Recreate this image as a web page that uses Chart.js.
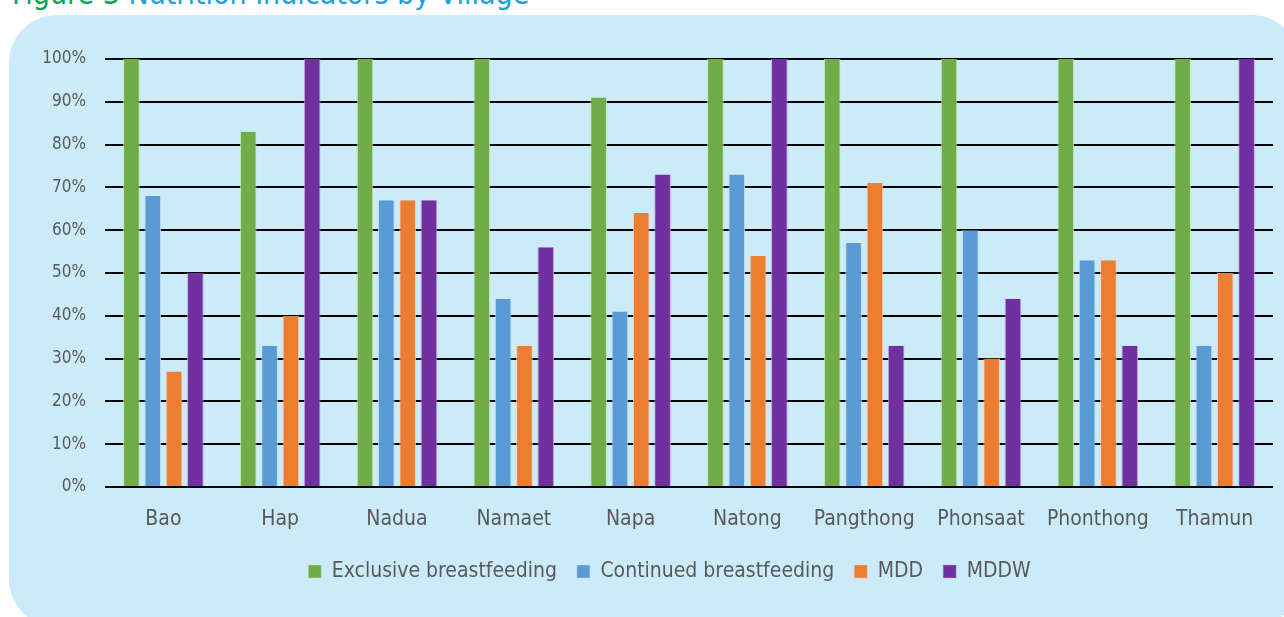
<!DOCTYPE html>
<html>
<head>
<meta charset="utf-8">
<script src="https://cdn.jsdelivr.net/npm/chart.js@4/dist/chart.umd.min.js"></script>
<style>
  html, body { margin: 0; padding: 0; background: #ffffff; }
  body { width: 1284px; height: 617px; position: relative; overflow: hidden; }
  #panel { position: absolute; left: 9px; top: 15px; width: 1291px; height: 612px; background: #CCEBF8; border-radius: 48px; }
  #title { position: absolute; left: 12px; top: -21px; font-family: 'DejaVu Sans Condensed', 'DejaVu Sans', sans-serif; font-stretch: condensed; font-size: 30px; line-height: 30px; white-space: nowrap; color: #1BA1DC; }
  #title .fig { color: #00A651; }
  #wrap { position: absolute; left: 0; top: 0; width: 1284px; height: 617px; }
  canvas { display: block; }
</style>
</head>
<body>
<div id="panel"></div>
<div id="title"><span class="fig">Figure 3</span> Nutrition Indicators by Village</div>
<div id="wrap"><canvas id="c" width="1284" height="617" style="width:1284px;height:617px"></canvas></div>
<script>
const villages = ['Bao', 'Hap', 'Nadua', 'Namaet', 'Napa', 'Natong', 'Pangthong', 'Phonsaat', 'Phonthong', 'Thamun'];
const exclusiveBreastfeeding = [100, 83, 100, 100, 91, 100, 100, 100, 100, 100];
const continuedBreastfeeding = [68, 33, 67, 44, 41, 73, 57, 60, 53, 33];
const mdd = [27, 40, 67, 33, 64, 54, 71, 30, 53, 50];
const mddw = [50, 100, 67, 56, 73, 100, 33, 44, 33, 100];
const yTickValues = [0, 10, 20, 30, 40, 50, 60, 70, 80, 90, 100];

const FONT = "'DejaVu Sans Condensed', 'DejaVu Sans', sans-serif";
const TICK = '#595959';

function ds(label, data, color, edge) {
  return {
    label, data,
    backgroundColor: color,
    borderColor: edge,
    borderWidth: { left: 1, right: 1, top: 0, bottom: 0 },
    borderSkipped: 'bottom',
    categoryPercentage: 0.73,
    barPercentage: 0.78
  };
}

const shiftLegend = {
  id: 'shiftLegend',
  beforeDraw(chart) {
    const lg = chart.legend;
    if (lg && !lg._shifted) { lg.left += 18; lg.right += 18; lg._shifted = true; }
  },
  afterLayout(chart) { if (chart.legend) chart.legend._shifted = false; }
};

new Chart(document.getElementById('c'), {
  type: 'bar',
  data: {
    labels: villages,
    datasets: [
      ds('Exclusive breastfeeding', exclusiveBreastfeeding, '#70AD47', 'rgba(200,230,190,0.9)'),
      ds('Continued breastfeeding', continuedBreastfeeding, '#5B9BD5', 'rgba(190,220,245,0.9)'),
      ds('MDD', mdd, '#ED7D31', 'rgba(245,205,180,0.9)'),
      ds('MDDW', mddw, '#7030A0', 'rgba(190,160,215,0.9)')
    ]
  },
  plugins: [shiftLegend],
  options: {
    responsive: false,
    animation: false,
    devicePixelRatio: 1,
    layout: { padding: { left: 30, right: 11, top: 59, bottom: 25 } },
    plugins: {
      title: { display: false },
      tooltip: { enabled: false },
      legend: {
        position: 'bottom',
        labels: {
          boxWidth: 13,
          boxHeight: 13,
          padding: 20,
          color: TICK,
          font: { family: FONT, size: 21 }
        }
      }
    },
    scales: {
      x: {
        grid: { display: false, drawTicks: false },
        border: { display: false },
        ticks: { color: TICK, font: { family: FONT, size: 21 }, padding: 20, maxRotation: 0 },
        afterFit: (s) => { s.height = 54; }
      },
      y: {
        min: 0, max: 100,
        afterBuildTicks: (s) => { s.ticks = yTickValues.map(v => ({ value: v })); },
        grid: { color: '#000000', lineWidth: 2, drawTicks: false },
        border: { display: false },
        ticks: { color: TICK, font: { family: FONT, size: 17 }, padding: 19, callback: (v) => v + '%' },
        afterFit: (s) => { s.width = 75; }
      }
    }
  }
});
</script>
</body>
</html>
